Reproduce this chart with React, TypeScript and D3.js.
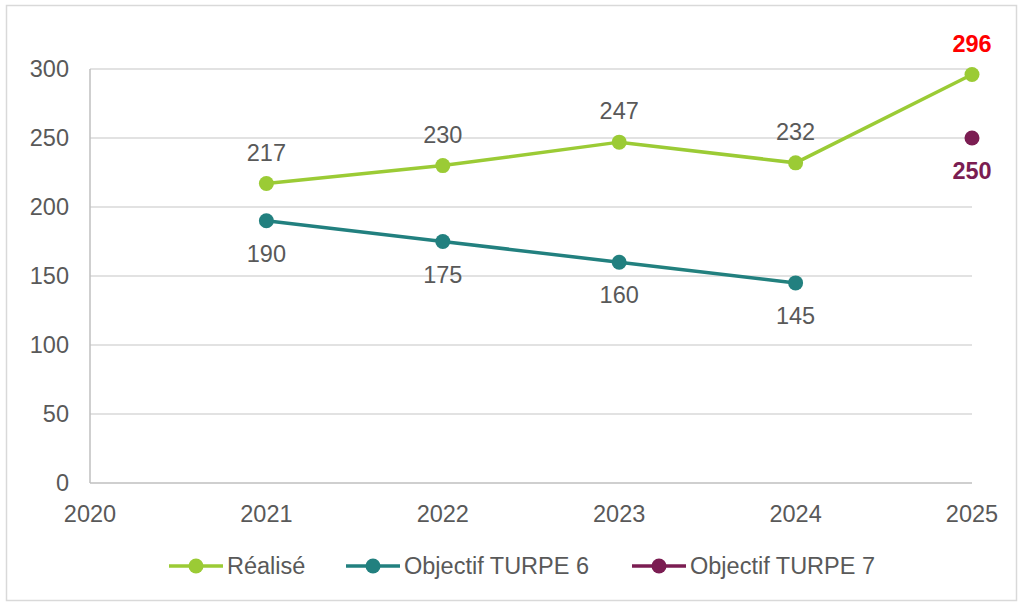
import { useEffect, useRef } from 'react'
import * as d3 from 'd3'

const years = [2020, 2021, 2022, 2023, 2024, 2025]
const yTicks = [0, 50, 100, 150, 200, 250, 300]

const realiseYears = [2021, 2022, 2023, 2024, 2025]
const realiseValues = [217, 230, 247, 232, 296]

const turpe6Years = [2021, 2022, 2023, 2024]
const turpe6Values = [190, 175, 160, 145]

const turpe7Years = [2025]
const turpe7Values = [250]

const legendLabels = ['Réalisé', 'Objectif TURPE 6', 'Objectif TURPE 7']

const GREEN = '#9BCB35'
const TEAL = '#22807F'
const PURPLE = '#7B1D52'
const TEXT = '#595959'
const GRID = '#D9D9D9'

export default function App() {
  const svgRef = useRef<SVGSVGElement>(null)

  useEffect(() => {
    if (!svgRef.current) return
    const svg = d3.select(svgRef.current)
    svg.selectAll('*').remove()

    const font = '"Liberation Sans", Arial, sans-serif'
    const fs = '23.5px'

    // cadre extérieur
    svg.append('rect')
      .attr('x', 6.5).attr('y', 5.5)
      .attr('width', 1010).attr('height', 595)
      .attr('fill', '#fff')
      .attr('stroke', GRID).attr('stroke-width', 1.5)

    const x = d3.scaleLinear().domain([2020, 2025]).range([90, 972])
    const y = d3.scaleLinear().domain([0, 300]).range([483, 69])

    // grille
    yTicks.forEach(t => {
      svg.append('line')
        .attr('x1', 90).attr('x2', 972)
        .attr('y1', y(t)).attr('y2', y(t))
        .attr('stroke', t === 0 ? '#BFBFBF' : GRID)
        .attr('stroke-width', 1.5)
      svg.append('text')
        .attr('x', 69).attr('y', y(t))
        .attr('text-anchor', 'end')
        .attr('dominant-baseline', 'central')
        .attr('fill', TEXT)
        .attr('font-family', font)
        .attr('font-size', fs)
        .text(t)
    })
    svg.append('line')
      .attr('x1', 90).attr('x2', 90)
      .attr('y1', y(300)).attr('y2', y(0))
      .attr('stroke', '#BFBFBF').attr('stroke-width', 1.5)

    years.forEach(yr => {
      svg.append('text')
        .attr('x', x(yr)).attr('y', 514)
        .attr('text-anchor', 'middle')
        .attr('dominant-baseline', 'central')
        .attr('fill', TEXT)
        .attr('font-family', font)
        .attr('font-size', fs)
        .text(yr)
    })

    const line = d3.line<[number, number]>()
      .x(d => x(d[0]))
      .y(d => y(d[1]))

    const series = [
      { xs: realiseYears, vs: realiseValues, color: GREEN, above: true },
      { xs: turpe6Years, vs: turpe6Values, color: TEAL, above: false },
      { xs: turpe7Years, vs: turpe7Values, color: PURPLE, above: false },
    ]

    series.forEach(s => {
      const pts = s.xs.map((xv, i) => [xv, s.vs[i]] as [number, number])
      svg.append('path')
        .attr('d', line(pts) as string)
        .attr('fill', 'none')
        .attr('stroke', s.color)
        .attr('stroke-width', 3.5)
      pts.forEach((p, i) => {
        svg.append('circle')
          .attr('cx', x(p[0])).attr('cy', y(p[1]))
          .attr('r', 7.5)
          .attr('fill', s.color)
        const special = p[0] === 2025
        const labelColor = special ? (s.color === GREEN ? '#FF0000' : PURPLE) : TEXT
        svg.append('text')
          .attr('x', x(p[0])).attr('y', y(p[1]) + (s.above ? -31 : 33))
          .attr('text-anchor', 'middle')
          .attr('dominant-baseline', 'central')
          .attr('fill', labelColor)
          .attr('font-weight', special ? 'bold' : 'normal')
          .attr('font-family', font)
          .attr('font-size', fs)
          .text(s.vs[i])
      })
    })

    // légende
    const legendX = [169, 346, 632]
    const legendColors = [GREEN, TEAL, PURPLE]
    legendLabels.forEach((lab, i) => {
      const lx = legendX[i]
      const ly = 566
      svg.append('line')
        .attr('x1', lx).attr('x2', lx + 54)
        .attr('y1', ly).attr('y2', ly)
        .attr('stroke', legendColors[i]).attr('stroke-width', 3.5)
      svg.append('circle')
        .attr('cx', lx + 27).attr('cy', ly).attr('r', 7.5)
        .attr('fill', legendColors[i])
      svg.append('text')
        .attr('x', lx + 58).attr('y', ly)
        .attr('dominant-baseline', 'central')
        .attr('fill', TEXT)
        .attr('font-family', font)
        .attr('font-size', fs)
        .text(lab)
    })
  }, [])

  return (
    <svg ref={svgRef} width={1022} height={605}
      style={{ position: 'absolute', left: 0, top: 0 }} />
  )
}
